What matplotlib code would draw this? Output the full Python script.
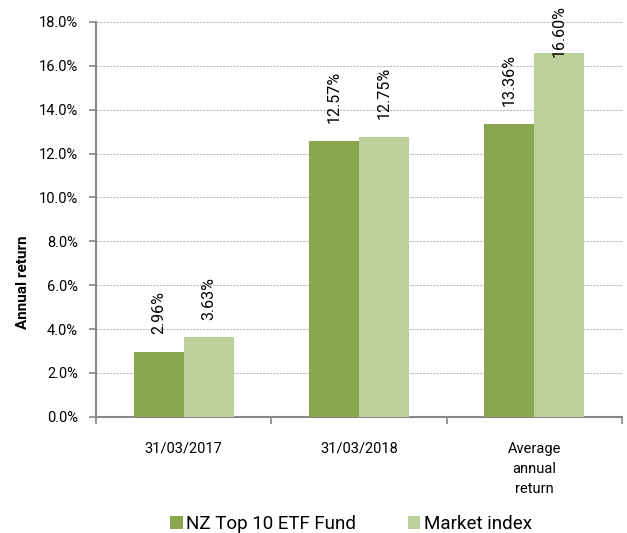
import matplotlib

matplotlib.use("Agg")
import matplotlib.pyplot as plt
import numpy as np

categories = ["31/03/2017", "31/03/2018", "Average\nannual\nreturn"]
fund = [2.96, 12.57, 13.36]
index = [3.63, 12.75, 16.60]
series_names = ["NZ Top 10 ETF Fund", "Market index"]
colors = ["#8aa64f", "#bbd09a"]

plt.rcParams["font.family"] = ["Roboto", "DejaVu Sans"]

fig = plt.figure(figsize=(6.27, 5.33), dpi=100)
ax = fig.add_axes([0.153, 0.218, 0.839, 0.741])

x = np.arange(len(categories))
w = 0.285
for i, (vals, name, c) in enumerate(zip([fund, index], series_names, colors)):
    pos = x + (i - 0.5) * w
    ax.bar(pos, vals, width=w, color=c, label=name, zorder=3)
    for p, v in zip(pos, vals):
        ax.text(p, min(v + 0.8, 16.4), f"{v:.2f}%", rotation=90,
                ha="center", va="bottom", fontsize=11.5, zorder=4, clip_on=False)

ax.set_xlim(-0.5, len(categories) - 0.5)
ax.set_ylim(0, 18)
ax.set_yticks(np.arange(0, 18.1, 2))
ax.set_yticklabels([f"{t:.1f}%" for t in np.arange(0, 18.1, 2)], fontsize=10.5)
ax.set_xticks(x)
ax.set_xticklabels(categories, fontsize=10.5, linespacing=1.55)
ax.tick_params(axis="x", length=0, pad=18)
ax.set_xticks(np.arange(-0.5, len(categories)), minor=True)
ax.tick_params(axis="x", which="minor", length=5, color="#888888", width=1.2)
ax.tick_params(axis="y", length=5, color="#888888", width=1.2, pad=8)

ax.yaxis.grid(True, linestyle=(0, (2, 1)), color="#bbbbbb", linewidth=0.8, zorder=0)
for s in ["top", "right"]:
    ax.spines[s].set_visible(False)
for s in ["left", "bottom"]:
    ax.spines[s].set_color("#888888")
    ax.spines[s].set_linewidth(1.5)

ax.set_ylabel("Annual return", fontsize=11, fontweight="bold")
ax.yaxis.set_label_coords(-0.126, 0.34)

fig.legend(loc="center", bbox_to_anchor=(0.56, 0.017), ncol=2, frameon=False,
           fontsize=13.5, handlelength=0.65, handleheight=0.65, handletextpad=0.2,
           columnspacing=2.75)

fig.savefig("out.png", dpi=100)
